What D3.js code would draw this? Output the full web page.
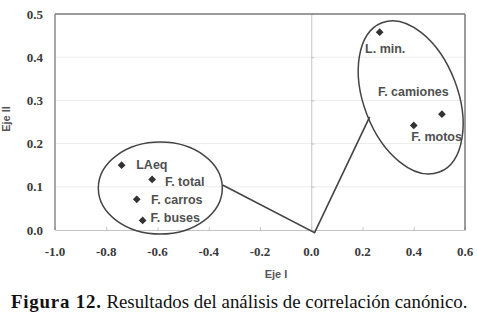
<!DOCTYPE html>
<html>
<head>
<meta charset="utf-8">
<script src="https://cdn.jsdelivr.net/npm/d3@7"></script>
<style>
body{margin:0;background:#fff}
svg{display:block}
</style>
</head>
<body>
<div id="container"></div>
<script>
const width = 477
const height = 317
const margin = {left:55, top:14, right:12, bottom:87}
const g_width = width - margin.left - margin.right
const g_height = height - margin.top - margin.bottom

// datos (Eje I, Eje II)
const names = ["L. min.", "F. camiones", "F. motos", "LAeq", "F. total", "F. carros", "F. buses"]
const ejeI  = [0.267, 0.51, 0.40, -0.74, -0.621, -0.681, -0.658]
const ejeII = [0.458, 0.268, 0.242, 0.150, 0.117, 0.071, 0.022]
// posicion de la etiqueta de cada punto (coordenadas de datos)
const labelX = [0.21, 0.26, 0.39, -0.683, -0.571, -0.625, -0.627]
const labelY = [0.41, 0.31, 0.207, 0.141, 0.102, 0.060, 0.018]

const xTicks = [-1.0, -0.8, -0.6, -0.4, -0.2, 0.0, 0.2, 0.4, 0.6]
const yTicks = [0.0, 0.1, 0.2, 0.3, 0.4, 0.5]

// grupos (centros de las elipses) y linea que los une
const groupX = [-0.589, 0.388]
const groupY = [0.097, 0.307]
const linkX = [-0.346, 0.013, 0.228]
const linkY = [0.104, -0.006, 0.262]

const svg = d3.select("#container")
  .append("svg")
  .attr("width", width)
  .attr("height", height)

const g = svg.append("g")
  .attr("transform", `translate(${margin.left},${margin.top})`)

const x = d3.scaleLinear().domain([-1.0, 0.6]).range([0, g_width])
const y = d3.scaleLinear().domain([0, 0.5]).range([g_height, 0])

const fmt = d => d.toFixed(1)

// cuadricula
g.selectAll(".grid").data(yTicks.slice(1, -1)).enter().append("line")
  .attr("x1", 0).attr("x2", g_width)
  .attr("y1", d => y(d)).attr("y2", d => y(d))
  .attr("stroke", "#ececec").attr("stroke-width", 1)

// eje x en y=0
const xAxis = d3.axisBottom(x).tickValues(xTicks).tickSize(-3).tickFormat("")
const gx = g.append("g").attr("transform", `translate(0,${y(0)})`).call(xAxis)
gx.select(".domain").attr("stroke", "#c4c4c4")
gx.selectAll(".tick line").attr("stroke", "#c4c4c4")

// eje y en x=0
const yAxis = d3.axisLeft(y).tickValues(yTicks).tickSize(-3).tickFormat("")
const gy = g.append("g").attr("transform", `translate(${x(0)},0)`).call(yAxis)
gy.select(".domain").attr("stroke", "#c4c4c4")
gy.selectAll(".tick line").attr("stroke", "#c4c4c4")

// bordes
g.append("line").attr("x1", 0).attr("x2", 0).attr("y1", 0).attr("y2", g_height)
  .attr("stroke", "#8a8a8a").attr("stroke-width", 1.5)
g.append("line").attr("x1", 0).attr("x2", g_width).attr("y1", 0).attr("y2", 0)
  .attr("stroke", "#7a7a7a").attr("stroke-width", 1.5)
g.append("line").attr("x1", g_width).attr("x2", g_width).attr("y1", 0).attr("y2", g_height)
  .attr("stroke", "#7a7a7a").attr("stroke-width", 1.5)

// etiquetas de ticks
g.selectAll(".xl").data(xTicks).enter().append("text")
  .attr("x", d => x(d)).attr("y", g_height + 26)
  .attr("text-anchor", "middle")
  .style("font", "bold 13px 'Liberation Serif', serif").attr("fill", "#3a3a3a")
  .text(fmt)

g.selectAll(".yl").data(yTicks).enter().append("text")
  .attr("x", -12).attr("y", d => y(d) + 4.5)
  .attr("text-anchor", "end")
  .style("font", "bold 13px 'Liberation Serif', serif").attr("fill", "#3a3a3a")
  .text(fmt)

// elipses
const ell = [{rx: 62, ry: 46, rot: 0}, {rx: 80, ry: 47, rot: 69}]
g.selectAll(".ell").data(groupX).enter().append("ellipse")
  .attr("transform", (d, i) => `translate(${x(d)},${y(groupY[i])}) rotate(${ell[i].rot})`)
  .attr("rx", (d, i) => ell[i].rx).attr("ry", (d, i) => ell[i].ry)
  .attr("fill", "none").attr("stroke", "#444").attr("stroke-width", 1.5)

// linea de union
const line = d3.line().x(d => x(d[0])).y(d => y(d[1]))
g.append("path")
  .attr("d", line(linkX.map((d, i) => [d, linkY[i]])))
  .attr("fill", "none").attr("stroke", "#444").attr("stroke-width", 1.6)

// puntos
g.selectAll(".pt").data(ejeI).enter().append("path")
  .attr("d", d3.symbol().type(d3.symbolSquare).size(30))
  .attr("transform", (d, i) => `translate(${x(d)},${y(ejeII[i])}) rotate(45)`)
  .attr("fill", "#333")

g.selectAll(".lab").data(names).enter().append("text")
  .attr("x", (d, i) => x(labelX[i])).attr("y", (d, i) => y(labelY[i]))
  .style("font", "bold 12.5px 'Liberation Sans', Arial, sans-serif").attr("fill", "#505050")
  .text(d => d)

// titulos de ejes
svg.append("text")
  .attr("x", 276).attr("y", 278).attr("text-anchor", "middle")
  .style("font", "bold 11px 'Liberation Sans', Arial, sans-serif").attr("fill", "#555")
  .text("Eje I")
svg.append("text")
  .attr("transform", "translate(10,119) rotate(-90)").attr("text-anchor", "middle")
  .style("font", "bold 11px 'Liberation Sans', Arial, sans-serif").attr("fill", "#555")
  .text("Eje II")

// pie de figura
const cap = svg.append("text")
  .attr("x", 11).attr("y", 308)
  .style("font", "18px 'Liberation Serif', 'Times New Roman', serif").attr("fill", "#111")
cap.append("tspan").style("font-weight", "bold").style("letter-spacing", "0.8px").text("Figura 12.")
cap.append("tspan").text(" Resultados del análisis de correlación canónico.")
// ajustar al ancho del original
const w = cap.node().getComputedTextLength()
cap.style("font-size", (18 * 457 / w) + "px")
</script>
</body>
</html>
